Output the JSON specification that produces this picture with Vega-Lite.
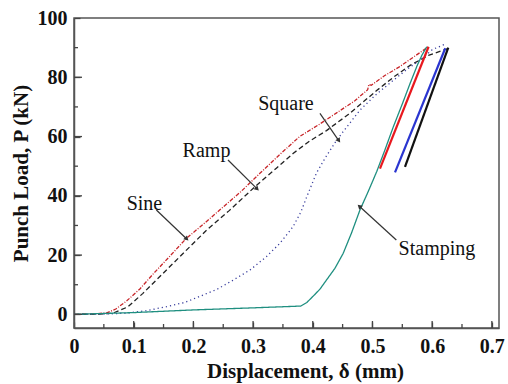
{
  "$schema": "https://vega.github.io/schema/vega-lite/v6.json",
  "width": 425,
  "height": 310,
  "autosize": {"type": "none"},
  "padding": {"left": 74, "top": 18, "right": 9, "bottom": 56},
  "background": "white",
  "config": {
    "view": {"stroke": "#555", "strokeWidth": 1.5},
    "axis": {
      "labelFont": "Liberation Serif",
      "labelFontWeight": "bold",
      "labelFontSize": 20,
      "labelColor": "#111",
      "titleFont": "Liberation Serif",
      "titleFontWeight": "bold",
      "titleFontSize": 21,
      "titleColor": "#111",
      "domainColor": "#555",
      "domainWidth": 1.5,
      "tickColor": "#444",
      "tickWidth": 1.3,
      "tickSize": -6,
      "grid": false
    }
  },
  "datasets": {
    "curves": [
      {"series": "Sine", "x": 0, "y": 0},
      {"series": "Sine", "x": 0.03, "y": 0.1},
      {"series": "Sine", "x": 0.055, "y": 0.5},
      {"series": "Sine", "x": 0.07, "y": 1.8},
      {"series": "Sine", "x": 0.088, "y": 4.5},
      {"series": "Sine", "x": 0.11, "y": 8.5},
      {"series": "Sine", "x": 0.132, "y": 13.5},
      {"series": "Sine", "x": 0.16, "y": 19.5},
      {"series": "Sine", "x": 0.188, "y": 25.6},
      {"series": "Sine", "x": 0.22, "y": 31},
      {"series": "Sine", "x": 0.244, "y": 35.2},
      {"series": "Sine", "x": 0.28, "y": 41.5},
      {"series": "Sine", "x": 0.311, "y": 47.5},
      {"series": "Sine", "x": 0.345, "y": 54},
      {"series": "Sine", "x": 0.378, "y": 60},
      {"series": "Sine", "x": 0.41, "y": 64},
      {"series": "Sine", "x": 0.44, "y": 68},
      {"series": "Sine", "x": 0.47, "y": 72},
      {"series": "Sine", "x": 0.492, "y": 75.8},
      {"series": "Sine", "x": 0.494, "y": 77.6},
      {"series": "Sine", "x": 0.498, "y": 77.3},
      {"series": "Sine", "x": 0.52, "y": 80.5},
      {"series": "Sine", "x": 0.545, "y": 83.5},
      {"series": "Sine", "x": 0.57, "y": 87},
      {"series": "Sine", "x": 0.594, "y": 90.3},
      {"series": "Ramp", "x": 0, "y": 0},
      {"series": "Ramp", "x": 0.04, "y": 0.1},
      {"series": "Ramp", "x": 0.065, "y": 0.4},
      {"series": "Ramp", "x": 0.09, "y": 2.5},
      {"series": "Ramp", "x": 0.115, "y": 7},
      {"series": "Ramp", "x": 0.14, "y": 12},
      {"series": "Ramp", "x": 0.166, "y": 17.2},
      {"series": "Ramp", "x": 0.195, "y": 23},
      {"series": "Ramp", "x": 0.222, "y": 28.4},
      {"series": "Ramp", "x": 0.26, "y": 35},
      {"series": "Ramp", "x": 0.306, "y": 43.6},
      {"series": "Ramp", "x": 0.34, "y": 49.5},
      {"series": "Ramp", "x": 0.367, "y": 54.3},
      {"series": "Ramp", "x": 0.395, "y": 58.5},
      {"series": "Ramp", "x": 0.423, "y": 62},
      {"series": "Ramp", "x": 0.46, "y": 67.5},
      {"series": "Ramp", "x": 0.507, "y": 75.5},
      {"series": "Ramp", "x": 0.535, "y": 80},
      {"series": "Ramp", "x": 0.563, "y": 84},
      {"series": "Ramp", "x": 0.595, "y": 87.5},
      {"series": "Ramp", "x": 0.627, "y": 89.7},
      {"series": "Square", "x": 0, "y": 0},
      {"series": "Square", "x": 0.05, "y": 0.1},
      {"series": "Square", "x": 0.0875, "y": 0.4},
      {"series": "Square", "x": 0.12, "y": 1.2},
      {"series": "Square", "x": 0.155, "y": 2.6},
      {"series": "Square", "x": 0.185, "y": 4},
      {"series": "Square", "x": 0.21, "y": 6},
      {"series": "Square", "x": 0.24, "y": 8.5},
      {"series": "Square", "x": 0.267, "y": 11.6},
      {"series": "Square", "x": 0.295, "y": 15},
      {"series": "Square", "x": 0.322, "y": 19.4},
      {"series": "Square", "x": 0.345, "y": 24},
      {"series": "Square", "x": 0.367, "y": 29.6},
      {"series": "Square", "x": 0.38, "y": 34.5},
      {"series": "Square", "x": 0.39, "y": 39.7},
      {"series": "Square", "x": 0.406, "y": 47.6},
      {"series": "Square", "x": 0.42, "y": 52.5},
      {"series": "Square", "x": 0.44, "y": 58.8},
      {"series": "Square", "x": 0.46, "y": 64},
      {"series": "Square", "x": 0.479, "y": 68.9},
      {"series": "Square", "x": 0.505, "y": 74},
      {"series": "Square", "x": 0.535, "y": 79},
      {"series": "Square", "x": 0.56, "y": 83},
      {"series": "Square", "x": 0.58, "y": 85.8},
      {"series": "Square", "x": 0.6, "y": 89.3},
      {"series": "Square", "x": 0.622, "y": 91.2},
      {"series": "Stamping", "x": 0, "y": 0},
      {"series": "Stamping", "x": 0.1, "y": 0.6},
      {"series": "Stamping", "x": 0.2, "y": 1.5},
      {"series": "Stamping", "x": 0.3, "y": 2.2},
      {"series": "Stamping", "x": 0.38, "y": 2.8},
      {"series": "Stamping", "x": 0.39, "y": 4},
      {"series": "Stamping", "x": 0.4, "y": 6},
      {"series": "Stamping", "x": 0.412, "y": 8.5},
      {"series": "Stamping", "x": 0.423, "y": 11.6},
      {"series": "Stamping", "x": 0.437, "y": 15.5},
      {"series": "Stamping", "x": 0.451, "y": 20.6},
      {"series": "Stamping", "x": 0.465, "y": 27.5},
      {"series": "Stamping", "x": 0.479, "y": 35.2},
      {"series": "Stamping", "x": 0.493, "y": 41.5},
      {"series": "Stamping", "x": 0.507, "y": 48.1},
      {"series": "Stamping", "x": 0.52, "y": 55},
      {"series": "Stamping", "x": 0.535, "y": 63.3},
      {"series": "Stamping", "x": 0.55, "y": 71},
      {"series": "Stamping", "x": 0.563, "y": 77.9},
      {"series": "Stamping", "x": 0.575, "y": 84},
      {"series": "Stamping", "x": 0.583, "y": 87.5},
      {"series": "Stamping", "x": 0.591, "y": 90.3}
    ],
    "unload": [
      {"series": "Sine", "x": 0.594, "y": 90.3},
      {"series": "Sine", "x": 0.5126, "y": 49.2},
      {"series": "Square", "x": 0.622, "y": 89.8},
      {"series": "Square", "x": 0.5378, "y": 47.9},
      {"series": "Ramp", "x": 0.627, "y": 90},
      {"series": "Ramp", "x": 0.5545, "y": 49.8}
    ],
    "notes": [
      {"label": "Sine", "tx": 0.118, "ty": 37.2, "x": 0.138, "y": 35.2, "x2": 0.188, "y2": 25.6},
      {"label": "Ramp", "tx": 0.222, "ty": 55.1, "x": 0.258, "y": 52.1, "x2": 0.306, "y2": 42.5},
      {"label": "Square", "tx": 0.355, "ty": 70.9, "x": 0.412, "y": 67.8, "x2": 0.443, "y2": 58.8},
      {"label": "Stamping", "tx": 0.608, "ty": 21.9, "x": 0.54, "y": 25.1, "x2": 0.479, "y2": 36.3}
    ],
    "xticks": [
      {"v": 0.1, "kind": "major"}, {"v": 0.2, "kind": "major"}, {"v": 0.3, "kind": "major"},
      {"v": 0.4, "kind": "major"}, {"v": 0.5, "kind": "major"}, {"v": 0.6, "kind": "major"},
      {"v": 0.7, "kind": "major"},
      {"v": 0.05, "kind": "minor"}, {"v": 0.15, "kind": "minor"}, {"v": 0.25, "kind": "minor"},
      {"v": 0.35, "kind": "minor"}, {"v": 0.45, "kind": "minor"}, {"v": 0.55, "kind": "minor"},
      {"v": 0.65, "kind": "minor"}
    ],
    "yticks": [
      {"v": 0, "kind": "major"}, {"v": 20, "kind": "major"}, {"v": 40, "kind": "major"},
      {"v": 60, "kind": "major"}, {"v": 80, "kind": "major"},
      {"v": 10, "kind": "minor"}, {"v": 30, "kind": "minor"}, {"v": 50, "kind": "minor"},
      {"v": 70, "kind": "minor"}, {"v": 90, "kind": "minor"}
    ]
  },
  "resolve": {"scale": {"color": "independent", "strokeDash": "independent"}},
  "layer": [
    {
      "data": {"name": "curves"},
      "mark": {"type": "line", "strokeWidth": 1.3, "clip": true},
      "encoding": {
        "x": {
          "field": "x", "type": "quantitative",
          "scale": {"domain": [0, 0.712], "nice": false, "zero": false},
          "axis": {
            "title": "Displacement, δ (mm)",
            "values": [0, 0.1, 0.2, 0.3, 0.4, 0.5, 0.6, 0.7],
            "labelExpr": "format(datum.value, '.1~f')",
            "labelPadding": 14,
            "labelFlush": false,
            "labelOverlap": false,
            "titlePadding": 4,
            "titleX": 231
          }
        },
        "y": {
          "field": "y", "type": "quantitative",
          "scale": {"domain": [-4.6, 100], "nice": false, "zero": false},
          "axis": {
            "title": "Punch Load, P (kN)",
            "values": [0, 20, 40, 60, 80, 100],
            "labelPadding": 13,
            "labelFlush": false,
            "labelOverlap": false,
            "titlePadding": 6
          }
        },
        "color": {
          "field": "series", "type": "nominal", "legend": null,
          "scale": {"domain": ["Sine", "Ramp", "Square", "Stamping"], "range": ["#c8262a", "#222222", "#3a3f9e", "#1f8f80"]}
        },
        "strokeDash": {
          "field": "series", "type": "nominal", "legend": null,
          "scale": {"domain": ["Sine", "Ramp", "Square", "Stamping"], "range": [[4, 1.5, 1, 1.5], [5, 3], [1.2, 3], [1, 0]]}
        }
      }
    },
    {
      "data": {"name": "unload"},
      "mark": {"type": "line", "strokeWidth": 2.2},
      "encoding": {
        "x": {"field": "x", "type": "quantitative"},
        "y": {"field": "y", "type": "quantitative"},
        "color": {
          "field": "series", "type": "nominal", "legend": null,
          "scale": {"domain": ["Sine", "Square", "Ramp"], "range": ["#e8181e", "#2a35d0", "#111111"]}
        }
      }
    },
    {
      "data": {"name": "xticks"},
      "transform": [{"filter": "datum.kind === 'major'"}],
      "mark": {"type": "tick", "orient": "vertical", "size": 14, "thickness": 1.3, "color": "#444", "opacity": 1, "clip": true},
      "encoding": {
        "x": {"field": "v", "type": "quantitative"},
        "y": {"datum": -4.6, "type": "quantitative"}
      }
    },
    {
      "data": {"name": "xticks"},
      "transform": [{"filter": "datum.kind === 'minor'"}],
      "mark": {"type": "tick", "orient": "vertical", "size": 8, "thickness": 1.3, "color": "#444", "opacity": 1, "clip": true},
      "encoding": {
        "x": {"field": "v", "type": "quantitative"},
        "y": {"datum": -4.6, "type": "quantitative"}
      }
    },
    {
      "data": {"name": "yticks"},
      "transform": [{"filter": "datum.kind === 'major'"}],
      "mark": {"type": "tick", "orient": "horizontal", "size": 16, "thickness": 1.3, "color": "#444", "opacity": 1, "clip": true},
      "encoding": {
        "y": {"field": "v", "type": "quantitative"},
        "x": {"datum": 0, "type": "quantitative"}
      }
    },
    {
      "data": {"name": "yticks"},
      "transform": [{"filter": "datum.kind === 'minor'"}],
      "mark": {"type": "tick", "orient": "horizontal", "size": 8, "thickness": 1.3, "color": "#444", "opacity": 1, "clip": true},
      "encoding": {
        "y": {"field": "v", "type": "quantitative"},
        "x": {"datum": 0, "type": "quantitative"}
      }
    },
    {
      "data": {"name": "notes"},
      "mark": {"type": "rule", "color": "#333", "strokeWidth": 1.2},
      "encoding": {
        "x": {"field": "x", "type": "quantitative"},
        "y": {"field": "y", "type": "quantitative"},
        "x2": {"field": "x2"},
        "y2": {"field": "y2"}
      }
    },
    {
      "data": {"name": "notes"},
      "transform": [{"filter": "datum.label === 'Sine'"}],
      "mark": {"type": "point", "shape": "triangle", "filled": true, "color": "#333", "size": 28, "angle": 134, "opacity": 1},
      "encoding": {"x": {"field": "x2", "type": "quantitative"}, "y": {"field": "y2", "type": "quantitative"}}
    },
    {
      "data": {"name": "notes"},
      "transform": [{"filter": "datum.label === 'Ramp'"}],
      "mark": {"type": "point", "shape": "triangle", "filled": true, "color": "#333", "size": 28, "angle": 135, "opacity": 1},
      "encoding": {"x": {"field": "x2", "type": "quantitative"}, "y": {"field": "y2", "type": "quantitative"}}
    },
    {
      "data": {"name": "notes"},
      "transform": [{"filter": "datum.label === 'Square'"}],
      "mark": {"type": "point", "shape": "triangle", "filled": true, "color": "#333", "size": 28, "angle": 145, "opacity": 1},
      "encoding": {"x": {"field": "x2", "type": "quantitative"}, "y": {"field": "y2", "type": "quantitative"}}
    },
    {
      "data": {"name": "notes"},
      "transform": [{"filter": "datum.label === 'Stamping'"}],
      "mark": {"type": "point", "shape": "triangle", "filled": true, "color": "#333", "size": 28, "angle": 312, "opacity": 1},
      "encoding": {"x": {"field": "x2", "type": "quantitative"}, "y": {"field": "y2", "type": "quantitative"}}
    },
    {
      "data": {"name": "notes"},
      "mark": {"type": "text", "font": "Liberation Serif", "fontSize": 20, "color": "#111", "align": "center", "baseline": "middle"},
      "encoding": {
        "x": {"field": "tx", "type": "quantitative"},
        "y": {"field": "ty", "type": "quantitative"},
        "text": {"field": "label"}
      }
    }
  ]
}
